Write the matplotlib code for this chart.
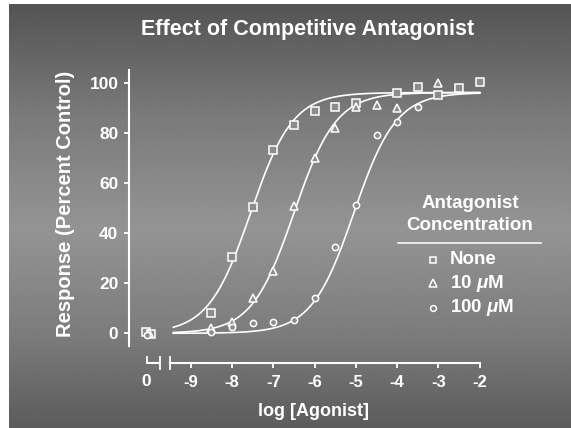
import numpy as np
import matplotlib.pyplot as plt

plt.rcParams['font.family'] = ['Liberation Sans', 'DejaVu Sans']
plt.rcParams['font.weight'] = 'bold'
plt.rcParams['axes.labelweight'] = 'bold'
plt.rcParams['mathtext.fontset'] = 'custom'
plt.rcParams['mathtext.it'] = 'Liberation Sans:italic:bold'
plt.rcParams['mathtext.rm'] = 'Liberation Sans:bold'

# log[agonist] values and responses (% of control)
x_none = [-8.5, -8.0, -7.5, -7.0, -6.5, -6.0, -5.5, -5.0, -4.0, -3.5, -3.0, -2.5, -2.0]
y_none = [8.2, 30.3, 50.5, 72.9, 83.1, 88.8, 90.4, 92.0, 95.8, 98.4, 95.1, 97.8, 100.4]

x_10 = [-8.5, -8.0, -7.5, -7.0, -6.5, -6.0, -5.5, -5.0, -4.5, -4.0, -3.0]
y_10 = [2.0, 4.6, 14.1, 25.0, 50.8, 69.8, 81.8, 90.4, 91.1, 89.8, 99.8]

x_100 = [-8.5, -8.0, -7.5, -7.0, -6.5, -6.0, -5.5, -5.0, -4.5, -4.0, -3.5]
y_100 = [0.5, 2.6, 4.0, 4.6, 5.3, 14.2, 34.3, 51.2, 79.1, 84.2, 90.4]

# responses with no agonist (plotted on the broken "0" segment)
zero_none = [0.5, -0.3]
zero_10 = [0.2]
zero_100 = [-0.5]

# fitted sigmoid parameters (bottom, top, logEC50, hill slope)
bottom, top, hill = 0.0, 96.0, 0.85
ec50 = {'None': -7.55, '10': -6.5, '100': -5.05}

xticks = [-9, -8, -7, -6, -5, -4, -3, -2]
xticklabels = ['-9', '-8', '-7', '-6', '-5', '-4', '-3', '-2']
yticks = [0, 20, 40, 60, 80, 100]

ZERO_POS = -10.05
AX_Y = -11.85
white = 'white'

fig = plt.figure(figsize=(5.71, 4.28), dpi=100)
fig.patch.set_facecolor('white')

# vertical gray gradient background
bg = fig.add_axes([9 / 571, 0, 1 - 9 / 571, 424 / 428])
rows = np.arange(424)
shade = np.interp(rows, [0, 110, 225, 330, 424], [84, 122, 148, 124, 92])
bg.imshow(np.tile(shade[:, None], (1, 10)), cmap='gray', vmin=0, vmax=255,
          aspect='auto', interpolation='bilinear')
bg.axis('off')

ax = fig.add_axes([129 / 571, 65 / 428, 361 / 571, 293 / 428])
ax.patch.set_alpha(0)
ax.set_xlim(-10.494, -1.753)
ax.set_ylim(AX_Y, 105)

xx = np.linspace(-9.42, -2.0, 300)
for k in ('None', '10', '100'):
    yy = bottom + (top - bottom) / (1 + 10 ** ((ec50[k] - xx) * hill))
    ax.plot(xx, yy, color=white, lw=1.2, zorder=2)

mk = dict(linestyle='none', markeredgecolor=white, markerfacecolor='#8c8c8c',
          markeredgewidth=1.1, clip_on=False, zorder=3)
ax.plot(x_none, y_none, 's', ms=5.8, **mk)
ax.plot(x_10, y_10, '^', ms=6.2, **mk)
ax.plot(x_100, y_100, 'o', ms=4.5, **mk)
ax.plot([ZERO_POS - 0.04, ZERO_POS + 0.1], zero_none, 's', ms=5.8, **mk)
ax.plot([ZERO_POS + 0.03], zero_10, '^', ms=6.2, **mk)
ax.plot([ZERO_POS], zero_100, 'o', ms=4.5, **mk)

# axes styling
for s in ('top', 'right'):
    ax.spines[s].set_visible(False)
ax.spines['left'].set_bounds(-5, 105)
ax.spines['bottom'].set_bounds(-9.5, -2)
for s in ('left', 'bottom'):
    ax.spines[s].set_color(white)
    ax.spines[s].set_linewidth(1.5)
ax.set_yticks(yticks)
ax.set_yticklabels([str(v) for v in yticks], fontweight='bold', fontsize=12.5)
ax.set_xticks(xticks)
ax.set_xticklabels(xticklabels, fontweight='bold', fontsize=12)
ax.tick_params(colors=white, width=1.3, length=3.6, direction='out', pad=4)
ax.tick_params(axis='x', pad=5)

# short left caps and the separate "0" segment of the broken x axis
cap = 2.4
ax.plot([-9.5, -9.5], [AX_Y - cap, AX_Y + cap], color=white, lw=1.3, clip_on=False)
ax.plot([-10.07, -9.755], [AX_Y, AX_Y], color=white, lw=1.5, clip_on=False,
        solid_capstyle='butt')
ax.plot([-10.07, -10.07], [AX_Y, AX_Y + 2.2], color=white, lw=1.3, clip_on=False)
ax.plot([-9.755, -9.755], [AX_Y - cap, AX_Y + cap], color=white, lw=1.3, clip_on=False)
ax.text(-10.07, AX_Y - 4.5, '0', color=white, fontsize=12.5, fontweight='bold',
        ha='center', va='top')

ax.set_xlabel('log [Agonist]', color=white, fontsize=13, fontweight='bold', va='center')
ax.xaxis.set_label_coords(0.51, -0.166)
ax.set_ylabel('Response (Percent Control)', color=white, fontsize=14.5,
              fontweight='bold', va='center')
ax.yaxis.set_label_coords(-0.177, 0.543)
fig.text(308 / 571, 1 - 29 / 428, 'Effect of Competitive Antagonist', color=white,
         fontsize=15.5, fontweight='bold', ha='center', va='center')

# legend drawn by hand
def fx(px):
    return px / 571

def fy(py):
    return 1 - py / 428

fig.text(fx(470), fy(203), 'Antagonist', color=white, fontsize=13.5, ha='center', va='center')
fig.text(fx(470), fy(226), 'Concentration', color=white, fontsize=13.5, ha='center', va='center')
fig.add_artist(plt.Line2D([fx(398), fx(541)], [fy(243), fy(243)], color=white, lw=1.1))
entries = [('s', 5.0, 'None', 260), ('^', 5.4, r'10 $\mathit{\mu}$M', 283),
           ('o', 4.2, r'100 $\mathit{\mu}$M', 307.5)]
for m, ms, lab, py in entries:
    fig.add_artist(plt.Line2D([fx(433)], [fy(py)], marker=m, ms=ms, linestyle='none',
                              markeredgecolor=white, markerfacecolor='none',
                              markeredgewidth=1.1))
    fig.text(fx(450), fy(py), lab, color=white, fontsize=13.5, ha='left', va='center')

fig.savefig('out.png', dpi=100)
